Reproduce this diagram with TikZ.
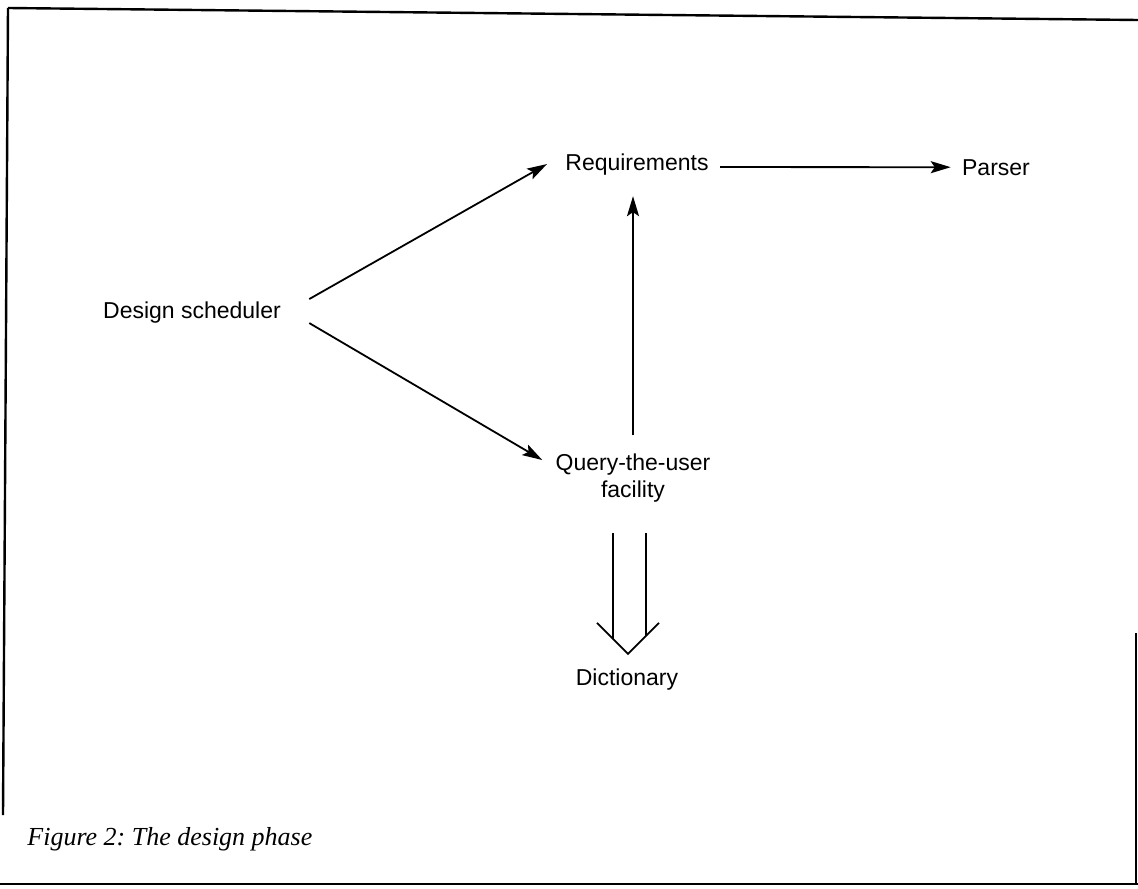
\documentclass[tikz,border=0pt]{standalone}
\usepackage{fontspec}
\setmainfont{Liberation Serif}
\newfontfamily\labelfont{Liberation Sans}
\frenchspacing
\usepackage{tikz}
\usetikzlibrary{arrows.meta}

\begin{document}
\begin{tikzpicture}[x=0.5pt,y=-0.5pt,
    lbl/.style={inner sep=0pt,font=\labelfont\fontsize{11.5}{13.5}\selectfont},
    arr/.style={line width=0.9pt,-{Stealth[length=10pt,width=6pt,inset=2pt]}},
    dbl/.style={line width=0.9pt}]
  \useasboundingbox (0,0) rectangle (1138,888);

  % frame of the scanned figure
  \draw[line width=1.2pt] (8,8) -- (1138,20);
  \draw[line width=1.2pt] (8,8) -- (3,815);
  \draw[line width=1.2pt] (0,884) -- (1138,884);
  \draw[line width=1.2pt] (1136,633) -- (1136,884);

  \node[lbl,anchor=base] (ds) at (192,318) {Design scheduler};
  \node[lbl,anchor=base] (req) at (637,170) {Requirements};
  \node[lbl,anchor=base] (par) at (996,175) {Parser};
  \node[lbl,align=center] (qry) at (633,478) {Query-the-user\\facility};
  \node[lbl,anchor=base] (dict) at (627,685) {Dictionary};
  \node[inner sep=0pt,anchor=base west,font=\fontsize{13}{15}\selectfont\itshape] (cap)
    at (27,845) {Figure 2: The design phase};

  \draw[arr] ([shift={(28,-13)}]ds.east) -- ([shift={(-18,0)}]req.west);
  \draw[arr] ([shift={(28,11)}]ds.east) -- ([shift={(-13,-18)}]qry.west);
  \draw[arr] ([shift={(0,-18)}]qry.north) -- ([shift={(-4,21)}]req.south);
  \draw[arr] ([shift={(11,3)}]req.east) -- ([shift={(-11,0)}]par.west);

  % hollow double arrow down to the dictionary
  \coordinate (tip) at ([shift={(1,-14)}]dict.north);
  \draw[dbl] ([shift={(-31,-31)}]tip) -- (tip) -- ([shift={(31,-31)}]tip);
  \draw[dbl] ([shift={(-15,-15)}]tip) -- ++(0,-106);
  \draw[dbl] ([shift={(18,-18)}]tip) -- ++(0,-103);
\end{tikzpicture}
\end{document}
